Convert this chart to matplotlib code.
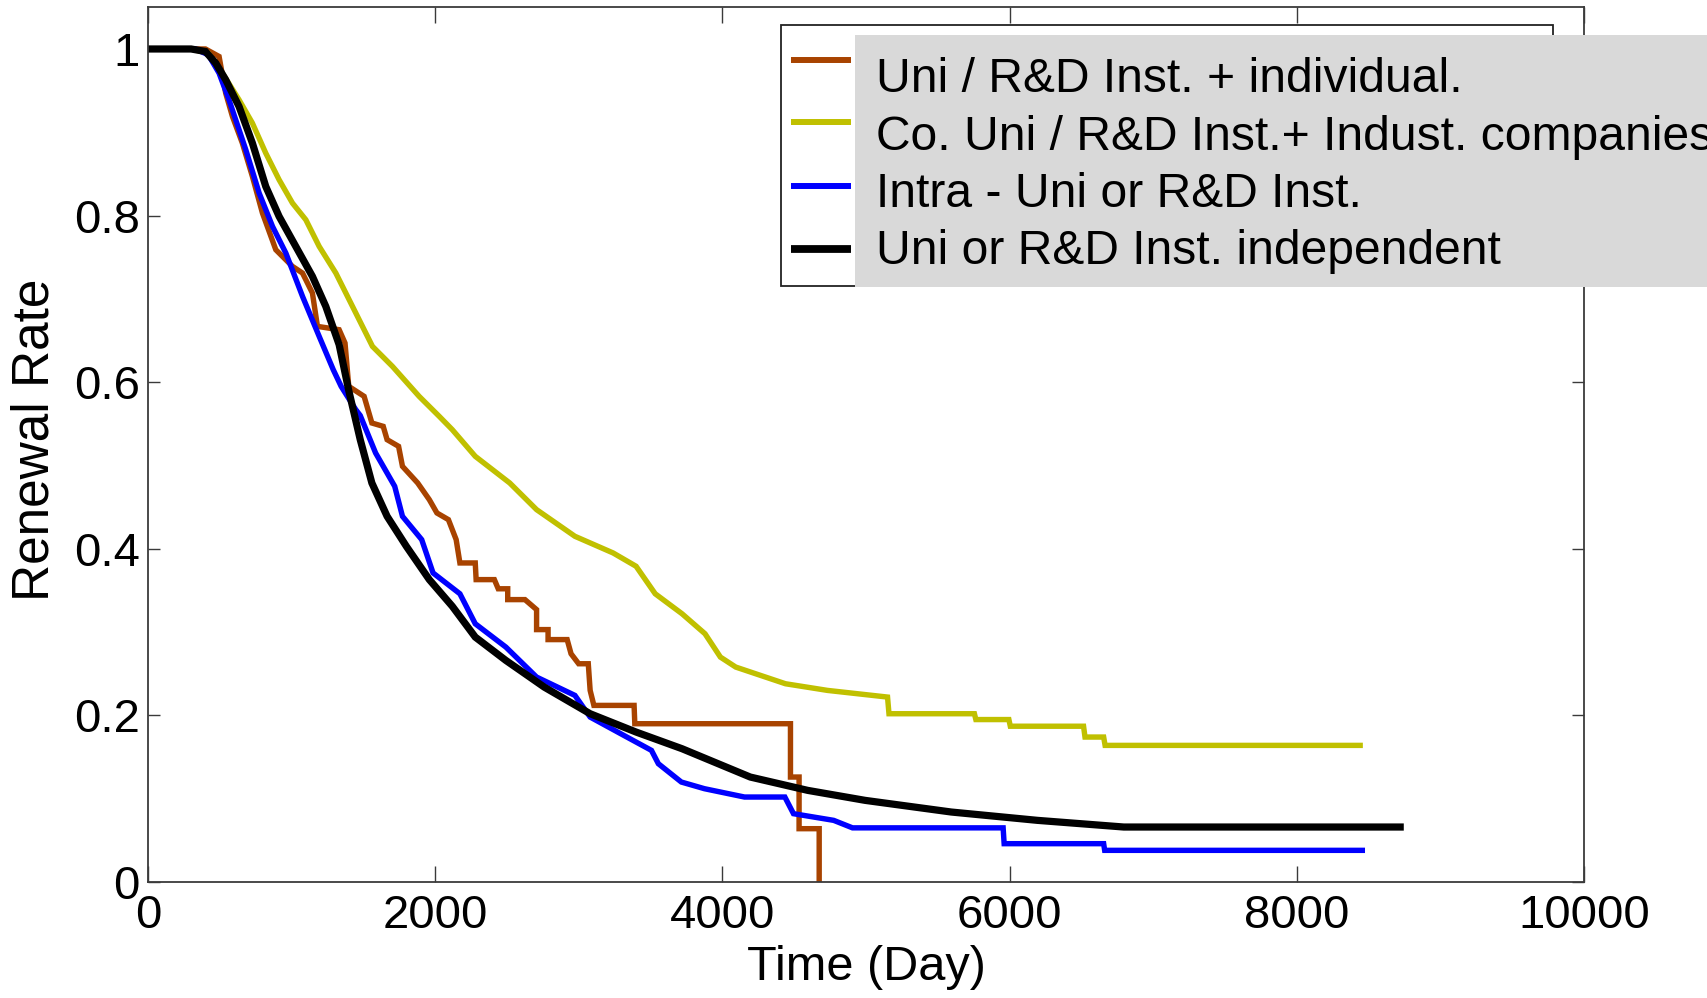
import matplotlib
matplotlib.use('Agg')
import matplotlib.pyplot as plt
from matplotlib.patches import Rectangle
from matplotlib.lines import Line2D

plt.rcParams['font.family'] = ['Liberation Sans', 'DejaVu Sans']

# ---------------- data ----------------
series_labels = ["Uni / R&D Inst. + individual.",
                 "Co. Uni / R&D Inst.+ Indust. companies",
                 "Intra - Uni or R&D Inst.",
                 "Uni or R&D Inst. independent"]
series_colors = ["#A84300", "#C0C000", "#0000FF", "#000000"]

x_indiv = [0, 400, 495, 541, 588, 657, 727, 797, 890, 1006, 1076, 1145, 1180, 1331,
           1372, 1398, 1505, 1559, 1638, 1665, 1745, 1772, 1878, 1959, 2012, 2092,
           2146, 2172, 2279, 2285, 2412, 2439, 2505, 2505, 2625, 2706, 2706, 2786,
           2786, 2919, 2946, 2999, 3066, 3079, 3105, 3385, 3390, 4474, 4474, 4534,
           4534, 4674, 4674]
y_indiv = [1.0, 1.0, 0.991, 0.947, 0.919, 0.887, 0.847, 0.803, 0.759, 0.739, 0.731,
           0.707, 0.667, 0.663, 0.647, 0.595, 0.583, 0.551, 0.547, 0.531, 0.523,
           0.499, 0.479, 0.459, 0.443, 0.435, 0.411, 0.383, 0.383, 0.363, 0.363,
           0.352, 0.352, 0.339, 0.339, 0.327, 0.303, 0.303, 0.291, 0.291, 0.274,
           0.262, 0.262, 0.230, 0.212, 0.212, 0.190, 0.190, 0.126, 0.126, 0.064,
           0.064, 0.0]

x_indust = [0, 300, 420, 518, 634, 727, 820, 913, 1006, 1099, 1192, 1308, 1424, 1563,
            1702, 1888, 2028, 2119, 2279, 2519, 2706, 2973, 3239, 3399, 3532, 3719,
            3879, 3986, 4093, 4439, 4732, 5150, 5160, 5755, 5765, 5995, 6005, 6515,
            6525, 6655, 6665, 8460]
y_indust = [1.0, 1.0, 0.995, 0.971, 0.939, 0.911, 0.875, 0.843, 0.815, 0.795, 0.763,
            0.731, 0.691, 0.643, 0.619, 0.583, 0.559, 0.543, 0.511, 0.479, 0.447,
            0.415, 0.395, 0.379, 0.346, 0.322, 0.298, 0.270, 0.258, 0.238, 0.230,
            0.222, 0.202, 0.202, 0.195, 0.195, 0.187, 0.187, 0.174, 0.174, 0.164, 0.164]

x_intra = [0, 330, 420, 495, 564, 681, 774, 867, 960, 1076, 1192, 1290, 1345, 1447,
           1478, 1585, 1718, 1772, 1906, 1985, 2172, 2279, 2492, 2706, 2973, 3079,
           3292, 3506, 3554, 3714, 3875, 4154, 4435, 4495, 4775, 4906, 5955, 5962,
           6655, 6662, 8475]
y_intra = [1.0, 1.0, 0.993, 0.971, 0.939, 0.879, 0.827, 0.787, 0.755, 0.703, 0.655,
           0.615, 0.595, 0.567, 0.560, 0.515, 0.475, 0.439, 0.411, 0.371, 0.346,
           0.310, 0.282, 0.246, 0.224, 0.198, 0.178, 0.158, 0.142, 0.120, 0.112,
           0.102, 0.102, 0.082, 0.074, 0.065, 0.065, 0.046, 0.046, 0.038, 0.038]

x_indep = [0, 300, 400, 472, 541, 634, 727, 820, 913, 1029, 1145, 1238, 1331, 1398,
           1478, 1559, 1665, 1799, 1959, 2119, 2279, 2492, 2759, 3079, 3399, 3719,
           4194, 4594, 4994, 5594, 6194, 6795, 8745]
y_indep = [1.0, 1.0, 0.997, 0.983, 0.963, 0.931, 0.887, 0.835, 0.799, 0.763, 0.727,
           0.691, 0.645, 0.590, 0.531, 0.479, 0.439, 0.403, 0.363, 0.331, 0.294,
           0.266, 0.234, 0.202, 0.180, 0.160, 0.126, 0.110, 0.098, 0.084, 0.074,
           0.066, 0.066]

x_ticks = [0, 2000, 4000, 6000, 8000, 10000]
x_ticklabels = ["0", "2000", "4000", "6000", "8000", "10000"]
y_ticks = [0, 0.2, 0.4, 0.6, 0.8, 1.0]
y_ticklabels = ["0", "0.2", "0.4", "0.6", "0.8", "1"]

# ---------------- figure ----------------
W, H = 1707, 998
fig = plt.figure(figsize=(W / 100, H / 100), dpi=100)
L, R, B, T = 148 / W, 1584 / W, 1 - 882 / H, 1 - 7 / H
ax = fig.add_axes([L, B, R - L, T - B])

xs = [x_indiv, x_indust, x_intra, x_indep]
ys = [y_indiv, y_indust, y_intra, y_indep]
widths = [3.9, 3.9, 3.9, 5.2]
for x, y, c, lw in zip(xs, ys, series_colors, widths):
    ax.plot(x, y, color=c, lw=lw, solid_joinstyle='miter', solid_capstyle='butt')

ax.set_xlim(0, 10000)
ax.set_ylim(0, 1.0504)
ax.set_xticks(x_ticks)
ax.set_xticklabels(x_ticklabels)
ax.set_yticks(y_ticks)
ax.set_yticklabels(y_ticklabels)

spine_col = '#3a3a3a'
for s in ax.spines.values():
    s.set_color(spine_col)
    s.set_linewidth(1.3)
ax.tick_params(axis='both', direction='in', top=True, right=True,
               color=spine_col, width=1.0, labelsize=34, labelcolor='black')
ax.tick_params(axis='x', length=11.5, pad=9)
ax.tick_params(axis='y', length=8.6, pad=6)

ax.set_xlabel("Time (Day)", fontsize=35)
ax.xaxis.set_label_coords(0.5, (882 - 967) / 875)
ax.xaxis.label.set_va('center')
ax.set_ylabel("Renewal Rate", fontsize=37)
ax.yaxis.set_label_coords((35 - 148) / 1436, (882 - 440) / 875)
ax.yaxis.label.set_va('center')
ax.yaxis.label.set_ha('center')

# ---------------- legend (drawn as in the reference export) ----------------
def fx(px):
    return px / W

def fy(py):
    return 1 - py / H

fig.add_artist(Rectangle((fx(781), fy(286)), fx(1553) - fx(781), fy(25) - fy(286),
                         transform=fig.transFigure, facecolor='white',
                         edgecolor='#222222', lw=1.3, zorder=4))
fig.add_artist(Rectangle((fx(855), fy(287)), fx(1720) - fx(855), fy(35) - fy(287),
                         transform=fig.transFigure, facecolor='#D9D9D9',
                         edgecolor='none', zorder=5))
handle_y = [60, 122, 186, 249]
text_base = [92, 150, 207, 264]
for lab, c, lw, hy, tb in zip(series_labels, series_colors, widths, handle_y, text_base):
    fig.add_artist(Line2D([fx(791), fx(851)], [fy(hy), fy(hy)], color=c, lw=lw + 0.4,
                          solid_capstyle='butt', transform=fig.transFigure, zorder=6))
    fig.text(fx(876), fy(tb), lab, fontsize=34.6, ha='left', va='baseline', zorder=7)

fig.savefig('out.png', dpi=100)
